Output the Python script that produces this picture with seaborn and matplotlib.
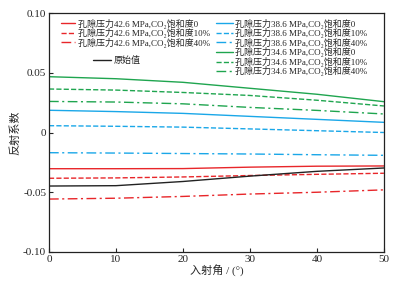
import matplotlib
matplotlib.use("Agg")
import matplotlib.pyplot as plt
from matplotlib.lines import Line2D
import numpy as np
import pandas as pd
import seaborn as sns

sns.set_style("ticks")
plt.rcParams['font.family'] = ['Liberation Serif', 'Noto Sans CJK SC', 'DejaVu Serif']

angle = [0, 10, 20, 30, 40, 50]

# reflection coefficient
p426_s0 = [-0.0303, -0.0303, -0.0302, -0.0290, -0.0282, -0.0280]
p426_s10 = [-0.0383, -0.0380, -0.0372, -0.0360, -0.0350, -0.0341]
p426_s40 = [-0.0557, -0.0550, -0.0535, -0.0515, -0.0500, -0.0480]
p386_s0 = [0.0186, 0.0175, 0.0160, 0.0135, 0.0110, 0.0085]
p386_s10 = [0.0057, 0.0052, 0.0045, 0.0030, 0.0015, 0.0000]
p386_s40 = [-0.0169, -0.0172, -0.0176, -0.0180, -0.0186, -0.0191]
p346_s0 = [0.0467, 0.0450, 0.0420, 0.0370, 0.0320, 0.0258]
p346_s10 = [0.0364, 0.0355, 0.0335, 0.0310, 0.0270, 0.0222]
p346_s40 = [0.0260, 0.0255, 0.0240, 0.0210, 0.0185, 0.0155]
original = [-0.0448, -0.0445, -0.0410, -0.0365, -0.0325, -0.0297]

y_ticks = [-0.10, -0.05, 0, 0.05, 0.10]
y_ticklabels = ["-0.10", "-0.05", "0", "0.05", "0.10"]
x_ticks = [0, 10, 20, 30, 40, 50]

def lab(p, s):
    return "孔隙压力" + p + " MPa,CO\u2082饱和度" + s

red, blue, green = "#e8262a", "#1aa7e8", "#1fa54f"
dashdot = (0, (7, 2.5, 1.5, 2.5))
series = [
    (p426_s0, lab("42.6", "0"), red, "-"),
    (p426_s10, lab("42.6", "10%"), red, "--"),
    (p426_s40, lab("42.6", "40%"), red, dashdot),
    (p386_s0, lab("38.6", "0"), blue, "-"),
    (p386_s10, lab("38.6", "10%"), blue, "--"),
    (p386_s40, lab("38.6", "40%"), blue, dashdot),
    (p346_s0, lab("34.6", "0"), green, "-"),
    (p346_s10, lab("34.6", "10%"), green, "--"),
    (p346_s40, lab("34.6", "40%"), green, dashdot),
    (original, "原始值", "#222222", "-"),
]

fig = plt.figure(figsize=(3.97, 2.84), dpi=100)
ax = fig.add_axes([0.1234, 0.1127, 0.8436, 0.8415])

handles = []
for vals, name, col, ls in series:
    df = pd.DataFrame({"angle": angle, "r": vals})
    sns.lineplot(data=df, x="angle", y="r", ax=ax, color=col, linewidth=1.0,
                 linestyle=ls)
    handles.append(Line2D([], [], color=col, linestyle=ls, linewidth=1.0, label=name))

ax.set_xlim(0, 50)
ax.set_ylim(-0.1, 0.1)
ax.set_xticks(x_ticks)
ax.set_yticks(y_ticks)
ax.set_yticklabels(y_ticklabels)
ax.tick_params(direction="in", length=3, width=0.8, labelsize=8, pad=2)
for sp in ax.spines.values():
    sp.set_linewidth(0.9)
    sp.set_color("#222222")
ax.set_xlabel("入射角 / (°)", fontsize=8, labelpad=1)
ax.set_ylabel("反射系数", fontsize=8, labelpad=2)

leg_kw = dict(frameon=False, fontsize=6.5, handletextpad=0.3, borderpad=0,
              labelspacing=-0.05, borderaxespad=0)
leg1 = ax.legend(handles=handles[0:3], loc="upper left", handlelength=1.6,
                 bbox_to_anchor=(0.035, 0.977), **leg_kw)
ax.add_artist(leg1)
leg2 = ax.legend(handles=handles[3:9], loc="upper left", handlelength=1.8,
                 bbox_to_anchor=(0.5, 0.977), **leg_kw)
ax.add_artist(leg2)
ax.legend(handles=handles[9:], loc="upper left", handlelength=2.0,
          bbox_to_anchor=(0.131, 0.82), **leg_kw)

fig.savefig("out.png", dpi=100)
